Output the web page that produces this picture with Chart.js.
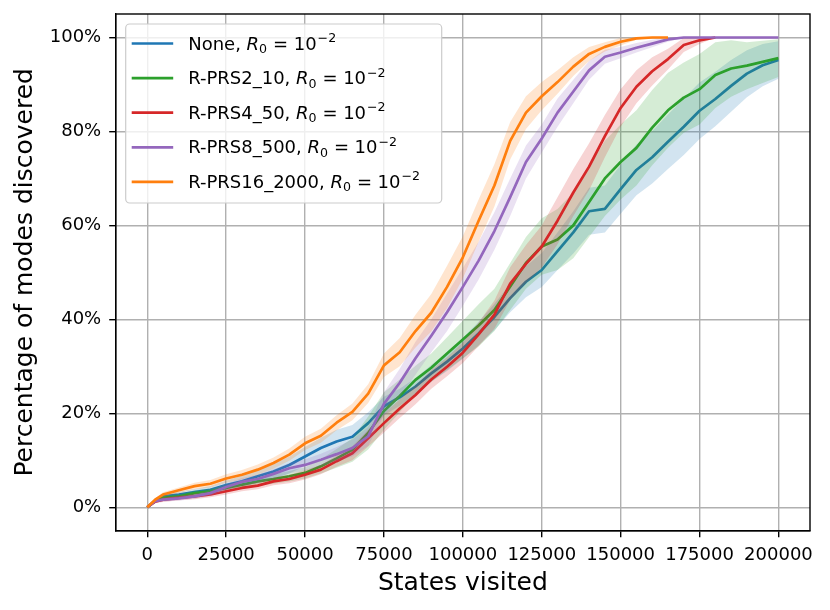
<!DOCTYPE html>
<html>
<head>
<meta charset="utf-8">
<script src="https://cdn.jsdelivr.net/npm/chart.js@4.4.1/dist/chart.umd.min.js"></script>
<style>
  body { margin: 0; background: #fff; }
  canvas { display: block; }
</style>
</head>
<body>
<canvas id="modes-chart" width="830" height="610"></canvas>
<script>
const states = [0, 2500, 5000, 10000, 15000, 20000, 25000, 30000, 35000, 40000, 45000,
  50000, 55000, 60000, 65000, 70000, 75000, 80000, 85000, 90000, 95000, 100000,
  105000, 110000, 115000, 120000, 125000, 130000, 135000, 140000, 145000, 150000,
  155000, 160000, 165000, 170000, 175000, 180000, 185000, 190000, 195000, 200000];

// mean % of modes discovered
const noneVals = [0, 1.4, 2.3, 2.7, 3.2, 3.7, 4.7, 5.5, 6.6, 7.6, 9.0, 10.8, 12.6, 14.0, 15.0,
  17.9, 21.5, 23.4, 25.7, 28.5, 31.0, 33.8, 37.0, 40.5, 44.5, 48.0, 50.5, 54.5, 58.5, 63.0,
  63.5, 67.7, 71.8, 74.5, 77.8, 81.0, 84.4, 86.9, 89.7, 92.3, 94.1, 95.2];
const prs2Vals = [0, 1.3, 2.0, 2.3, 3.0, 3.4, 4.1, 4.8, 5.5, 6.0, 6.6, 7.3, 8.7, 10.4, 12.2,
  15.8, 20.5, 23.7, 27.1, 29.7, 32.7, 35.7, 38.7, 42.0, 47.0, 52.0, 55.5, 57.0, 60.0, 65.0,
  70.0, 73.5, 76.5, 80.8, 84.5, 87.2, 89.0, 92.0, 93.4, 94.0, 94.8, 95.6];
const prs4Vals = [0, 1.2, 1.6, 2.0, 2.3, 2.7, 3.4, 4.1, 4.6, 5.5, 6.0, 6.9, 8.0, 9.8, 11.5,
  14.7, 17.9, 21.0, 23.9, 27.2, 29.9, 32.9, 36.8, 41.0, 47.6, 51.8, 55.5, 61.0, 67.0, 72.5,
  79.0, 85.0, 89.5, 92.8, 95.4, 98.4, 99.4, 100, null, null, null, null];
const prs8Vals = [0, 1.3, 1.6, 1.9, 2.3, 3.0, 4.3, 5.4, 6.0, 7.1, 8.3, 9.0, 10.1, 11.3, 12.6,
  15.1, 22.0, 26.5, 31.7, 36.5, 41.5, 46.9, 52.5, 58.8, 66.0, 73.5, 78.5, 84.0, 88.5, 93.0,
  95.9, 96.8, 97.8, 98.7, 99.6, 100, 100, 100, 100, 100, 100, 100];
const prs16Vals = [0, 1.6, 2.7, 3.6, 4.5, 5.0, 6.1, 6.9, 8.0, 9.4, 11.2, 13.6, 15.2, 18.0, 20.3,
  24.2, 30.2, 33.0, 37.5, 41.4, 46.9, 53.2, 61.0, 68.5, 78.0, 84.0, 87.5, 90.5, 93.8, 96.5,
  98.0, 99.1, 99.8, 100, 100, null, null, null, null, null, null, null];

// half width of the shaded band
const noneSpread = [0, 0.3, 0.5, 0.6, 0.7, 0.8, 1.0, 1.2, 1.4, 1.6, 1.8, 2.0, 2.2, 2.5, 2.5,
  2.3, 2.0, 1.8, 1.8, 1.8, 2.0, 2.2, 2.5, 2.8, 3.0, 3.3, 3.6, 4.0, 4.5, 5.0, 5.0, 5.2, 5.4,
  5.6, 5.8, 6.0, 6.0, 5.8, 5.5, 5.0, 4.5, 4.0];
const prs2Spread = [0, 0.3, 0.5, 0.5, 0.6, 0.6, 0.7, 0.8, 0.9, 1.0, 1.1, 1.2, 1.5, 2.0, 2.5,
  3.5, 4.0, 3.5, 3.0, 3.0, 3.5, 4.0, 4.5, 4.5, 5.0, 5.5, 6.0, 6.5, 7.0, 7.5, 8.0, 8.0, 8.0,
  8.0, 8.0, 7.5, 7.5, 7.0, 6.0, 5.0, 4.5, 4.0];
const prs4Spread = [0, 0.3, 0.5, 0.5, 0.6, 0.6, 0.7, 0.7, 0.8, 0.8, 0.9, 1.0, 1.0, 1.2, 1.5,
  1.8, 2.0, 2.0, 2.0, 2.0, 2.0, 2.2, 2.5, 3.0, 3.5, 4.0, 4.5, 5.0, 5.0, 5.0, 4.5, 4.0, 3.5,
  3.0, 2.2, 1.5, 0.8, 0, null, null, null, null];
const prs8Spread = [0, 0.3, 0.4, 0.5, 0.5, 0.6, 0.7, 0.8, 0.9, 1.0, 1.1, 1.2, 1.3, 1.5, 1.8,
  2.0, 2.5, 3.0, 3.5, 3.5, 4.0, 4.0, 4.0, 4.0, 4.0, 3.5, 3.0, 3.0, 2.5, 2.0, 1.5, 1.2, 1.0,
  0.8, 0.5, 0, 0, 0, 0, 0, 0, 0];
const prs16Spread = [0, 0.3, 0.5, 0.6, 0.7, 0.8, 0.9, 1.0, 1.1, 1.2, 1.3, 1.4, 1.5, 1.6, 1.8,
  2.0, 2.5, 3.0, 3.5, 4.0, 4.5, 4.5, 4.5, 4.5, 4.0, 3.5, 3.0, 2.5, 2.0, 1.5, 1.0, 0.8, 0.3,
  0, 0, null, null, null, null, null, null, null];

const seriesNames = ['None', 'R-PRS2_10', 'R-PRS4_50', 'R-PRS8_500', 'R-PRS16_2000'];
const seriesVals = [noneVals, prs2Vals, prs4Vals, prs8Vals, prs16Vals];
const seriesSpread = [noneSpread, prs2Spread, prs4Spread, prs8Spread, prs16Spread];
const colors = ['#1f77b4', '#2ca02c', '#d62728', '#9467bd', '#ff7f0e'];
const bandColors = ['rgba(31,119,180,0.2)', 'rgba(44,160,44,0.2)', 'rgba(214,39,40,0.2)',
  'rgba(148,103,189,0.2)', 'rgba(255,127,14,0.2)'];

const xTicks = [0, 25000, 50000, 75000, 100000, 125000, 150000, 175000, 200000];
const yTicks = [0, 20, 40, 60, 80, 100];

const FONT = '"DejaVu Sans", sans-serif';

function points(vals, shift) {
  const out = [];
  vals.forEach((v, i) => {
    if (v === null) return;
    let y = v;
    if (shift) y = Math.max(0, Math.min(100, v + shift[i]));
    out.push({x: states[i], y: y});
  });
  return out;
}

const datasets = [];
seriesVals.forEach((vals, k) => {
  const spread = seriesSpread[k];
  const rank = (5 - k) * 2;
  datasets.push({
    data: points(vals, spread.map(s => (s === null ? null : -s))),
    borderColor: 'rgba(0,0,0,0)', borderWidth: 0, pointRadius: 0, fill: false, order: rank
  });
  datasets.push({
    data: points(vals, spread),
    borderColor: 'rgba(0,0,0,0)', borderWidth: 0, pointRadius: 0,
    backgroundColor: bandColors[k], fill: '-1', order: rank
  });
  datasets.push({
    data: points(vals),
    borderColor: colors[k], borderWidth: 2.7, pointRadius: 0, fill: false,
    borderJoinStyle: 'round', order: rank - 1
  });
});

function drawLabel(ctx, name, x, y) {
  ctx.fillStyle = '#000';
  ctx.textBaseline = 'alphabetic';
  ctx.textAlign = 'left';
  ctx.font = '18px ' + FONT;
  const head = name + ', ';
  ctx.fillText(head, x, y);
  x += ctx.measureText(head).width;
  ctx.font = 'italic 18px ' + FONT;
  ctx.fillText('R', x, y);
  x += ctx.measureText('R').width;
  ctx.font = '12.6px ' + FONT;
  ctx.fillText('0', x, y + 3.5);
  x += ctx.measureText('0').width + 6;
  ctx.font = '18px ' + FONT;
  ctx.fillText('=', x, y);
  x += ctx.measureText('=').width + 5.5;
  ctx.fillText('10', x, y);
  x += ctx.measureText('10').width + 1;
  ctx.font = '12.6px ' + FONT;
  ctx.fillText('\u22122', x, y - 7.5);
}

const framePlugin = {
  id: 'frame',
  afterDatasetsDraw(chart) {
    const {ctx, chartArea: a} = chart;
    ctx.save();
    ctx.strokeStyle = '#000';
    ctx.lineWidth = 1.4;
    ctx.strokeRect(a.left, a.top, a.right - a.left, a.bottom - a.top);
    ctx.restore();
  }
};

const legendPlugin = {
  id: 'mathLegend',
  afterDraw(chart) {
    const ctx = chart.ctx;
    const bx = chart.chartArea.left + 10;
    const by = chart.chartArea.top + 10;
    const bw = 316, bh = 179, r = 4;
    ctx.save();
    ctx.beginPath();
    ctx.moveTo(bx + r, by);
    ctx.arcTo(bx + bw, by, bx + bw, by + bh, r);
    ctx.arcTo(bx + bw, by + bh, bx, by + bh, r);
    ctx.arcTo(bx, by + bh, bx, by, r);
    ctx.arcTo(bx, by, bx + bw, by, r);
    ctx.closePath();
    ctx.fillStyle = 'rgba(255,255,255,0.8)';
    ctx.fill();
    ctx.strokeStyle = '#cccccc';
    ctx.lineWidth = 1.2;
    ctx.stroke();
    seriesNames.forEach((name, k) => {
      const rowY = by + 19.5 + k * 34.6;
      ctx.beginPath();
      ctx.moveTo(bx + 6, rowY);
      ctx.lineTo(bx + 47.5, rowY);
      ctx.strokeStyle = colors[k];
      ctx.lineWidth = 2.7;
      ctx.stroke();
      drawLabel(ctx, name, bx + 62.5, rowY + 6);
    });
    ctx.restore();
  }
};

new Chart(document.getElementById('modes-chart'), {
  type: 'line',
  data: {datasets: datasets},
  options: {
    responsive: false,
    animation: false,
    layout: {padding: {left: 0, right: 20, top: 14, bottom: 0}},
    plugins: {legend: {display: false}, tooltip: {enabled: false}},
    scales: {
      x: {
        type: 'linear',
        min: -10000,
        max: 210000,
        afterBuildTicks: s => { s.ticks = xTicks.map(v => ({value: v})); },
        afterFit: s => { s.height = 79.3; },
        grid: {color: '#b0b0b0', lineWidth: 1.4, tickColor: '#000', tickLength: 6.5},
        border: {color: '#000', width: 1.4},
        ticks: {
          color: '#000', font: {family: FONT, size: 18}, padding: 7,
          maxRotation: 0, autoSkip: false, callback: v => String(v)
        },
        title: {
          display: true, text: 'States visited', color: '#000',
          font: {family: FONT, size: 25}, padding: {top: 0, bottom: 12}
        }
      },
      y: {
        min: -5,
        max: 105,
        afterBuildTicks: s => { s.ticks = yTicks.map(v => ({value: v})); },
        afterFit: s => { s.width = 115.7; s.paddingTop = 0; s.paddingBottom = 0; },
        grid: {color: '#b0b0b0', lineWidth: 1.4, tickColor: '#000', tickLength: 6.5},
        border: {color: '#000', width: 1.4},
        ticks: {
          color: '#000', font: {family: FONT, size: 18}, padding: 8,
          callback: v => v + '%'
        },
        title: {
          display: true, text: 'Percentage of modes discovered', color: '#000',
          font: {family: FONT, size: 25}, padding: {top: 10.8, bottom: 0}
        }
      }
    }
  },
  plugins: [framePlugin, legendPlugin]
});
</script>
</body>
</html>
